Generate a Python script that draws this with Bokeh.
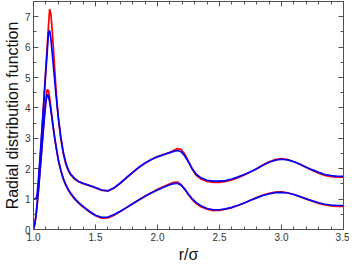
from bokeh.plotting import figure
from bokeh.models import Range1d, LinearAxis, SingleIntervalTicker, PrintfTickFormatter
from bokeh.embed import file_html
from bokeh.resources import INLINE

# reduced distance r/sigma (shared sampling of all curves)
r = [1.00, 1.01, 1.02, 1.03, 1.04, 1.05, 1.06, 1.07, 1.08, 1.09,
     1.10, 1.11, 1.12, 1.13, 1.14, 1.15, 1.16, 1.17, 1.18, 1.19,
     1.20, 1.22, 1.24, 1.26, 1.28, 1.30, 1.33, 1.36, 1.40, 1.45,
     1.50, 1.55, 1.60, 1.65, 1.70, 1.75, 1.80, 1.85, 1.90, 1.95,
     2.00, 2.05, 2.10, 2.13, 2.16, 2.19, 2.22, 2.25, 2.28, 2.31,
     2.35, 2.40, 2.45, 2.50, 2.55, 2.60, 2.65, 2.70, 2.75, 2.80,
     2.85, 2.90, 2.95, 3.00, 3.05, 3.10, 3.15, 3.20, 3.25, 3.30,
     3.35, 3.40, 3.45, 3.50]

# lower pair of curves
g_low_red = [0.00, 0.18, 0.45, 0.85, 1.30, 1.78, 2.30, 2.82, 3.35, 3.85,
             4.30, 4.60, 4.58, 4.35, 4.02, 3.68, 3.35, 3.05, 2.77, 2.52,
             2.28, 1.94, 1.66, 1.46, 1.30, 1.17, 1.01, 0.88, 0.74, 0.58,
             0.45, 0.37, 0.38, 0.47, 0.59, 0.72, 0.85, 0.98, 1.10, 1.21,
             1.32, 1.41, 1.50, 1.55, 1.56, 1.48, 1.32, 1.14, 0.98, 0.86,
             0.75, 0.67, 0.62, 0.63, 0.67, 0.72, 0.79, 0.87, 0.96, 1.05,
             1.13, 1.19, 1.23, 1.24, 1.21, 1.15, 1.08, 1.00, 0.93, 0.86,
             0.81, 0.78, 0.76, 0.76]

g_low_blue = [0.00, 0.18, 0.45, 0.85, 1.30, 1.78, 2.30, 2.80, 3.30, 3.78,
              4.20, 4.44, 4.40, 4.20, 3.92, 3.62, 3.32, 3.04, 2.78, 2.54,
              2.30, 1.96, 1.68, 1.48, 1.32, 1.19, 1.03, 0.90, 0.76, 0.60,
              0.47, 0.40, 0.41, 0.49, 0.60, 0.72, 0.85, 0.97, 1.09, 1.20,
              1.30, 1.39, 1.47, 1.51, 1.52, 1.46, 1.33, 1.16, 1.01, 0.89,
              0.78, 0.69, 0.65, 0.65, 0.68, 0.73, 0.80, 0.87, 0.96, 1.04,
              1.12, 1.17, 1.21, 1.22, 1.20, 1.15, 1.08, 1.01, 0.94, 0.88,
              0.83, 0.80, 0.79, 0.79]

# upper pair of curves
g_up_red = [1.00, 1.00, 1.00, 1.10, 1.55, 2.10, 2.70, 3.35, 4.00, 4.68,
            5.35, 6.00, 6.65, 7.25, 7.10, 6.60, 6.00, 5.35, 4.72, 4.15,
            3.68, 2.98, 2.50, 2.16, 1.94, 1.80, 1.66, 1.58, 1.51, 1.44,
            1.37, 1.29, 1.27, 1.36, 1.52, 1.70, 1.87, 2.04, 2.18, 2.30,
            2.40, 2.47, 2.54, 2.60, 2.66, 2.64, 2.48, 2.24, 1.98, 1.79,
            1.66, 1.58, 1.55, 1.55, 1.58, 1.63, 1.70, 1.79, 1.89, 2.00,
            2.12, 2.23, 2.30, 2.33, 2.30, 2.23, 2.14, 2.04, 1.94, 1.85,
            1.78, 1.74, 1.72, 1.72]

g_up_blue = [1.00, 1.00, 1.00, 1.15, 1.65, 2.20, 2.80, 3.40, 4.00, 4.62,
             5.22, 5.80, 6.45, 6.55, 6.28, 5.85, 5.40, 4.95, 4.50, 4.08,
             3.70, 3.05, 2.55, 2.20, 1.97, 1.82, 1.68, 1.59, 1.52, 1.45,
             1.38, 1.30, 1.27, 1.37, 1.53, 1.71, 1.88, 2.05, 2.19, 2.30,
             2.39, 2.46, 2.53, 2.57, 2.60, 2.56, 2.42, 2.22, 2.00, 1.83,
             1.70, 1.62, 1.59, 1.59, 1.61, 1.66, 1.73, 1.81, 1.90, 2.00,
             2.11, 2.21, 2.28, 2.31, 2.29, 2.23, 2.15, 2.05, 1.96, 1.88,
             1.81, 1.77, 1.75, 1.75]

RED = "#ff0000"
BLUE = "#0000ff"
AX = "#505050"
FONT = "Liberation Sans"

p = figure(width=349, height=265, output_backend="svg", toolbar_location=None,
           x_range=Range1d(1.0, 3.5), y_range=Range1d(0, 7.5),
           x_axis_label="r/\u03c3", y_axis_label="Radial distribution function",
           min_border_left=28, min_border_right=6, min_border_top=1,
           min_border_bottom=35)

p.xgrid.visible = False
p.ygrid.visible = False
p.outline_line_color = AX
p.background_fill_color = "white"
p.border_fill_color = "white"

xt = SingleIntervalTicker(interval=0.5, num_minor_ticks=5)
yt = SingleIntervalTicker(interval=1, num_minor_ticks=2)

def style_axis(ax):
    ax.axis_line_color = AX
    ax.major_tick_line_color = AX
    ax.minor_tick_line_color = AX
    ax.major_tick_in = 5
    ax.major_tick_out = 0
    ax.minor_tick_in = 3
    ax.minor_tick_out = 0
    ax.major_label_text_font = FONT
    ax.major_label_text_font_size = "10px"
    ax.major_label_text_color = "#333333"
    ax.axis_label_text_font = FONT
    ax.axis_label_text_font_size = "16px"
    ax.axis_label_text_font_style = "normal"
    ax.axis_label_text_color = "#111111"

xa = p.xaxis[0]
xa.ticker = xt
xa.formatter = PrintfTickFormatter(format="%.1f")
xa.major_label_standoff = 3
xa.axis_label_standoff = 2
style_axis(xa)

ya = p.yaxis[0]
ya.ticker = yt
ya.major_label_standoff = 3
ya.axis_label_standoff = 1
style_axis(ya)

# mirrored tick marks on top and right, without labels
top = LinearAxis(ticker=SingleIntervalTicker(interval=0.5, num_minor_ticks=5))
style_axis(top)
top.major_label_text_color = None
top.major_label_text_font_size = "1px"
top.major_label_standoff = 0
p.add_layout(top, "above")

right = LinearAxis(ticker=SingleIntervalTicker(interval=1, num_minor_ticks=2))
style_axis(right)
right.major_label_text_color = None
right.major_label_text_font_size = "1px"
right.major_label_standoff = 0
p.add_layout(right, "right")

for ys in (g_low_red, g_up_red):
    p.line(r, ys, line_color=RED, line_width=1.7)
for ys in (g_low_blue, g_up_blue):
    p.line(r, ys, line_color=BLUE, line_width=1.7)

open("out.html", "w").write(file_html(p, INLINE))
